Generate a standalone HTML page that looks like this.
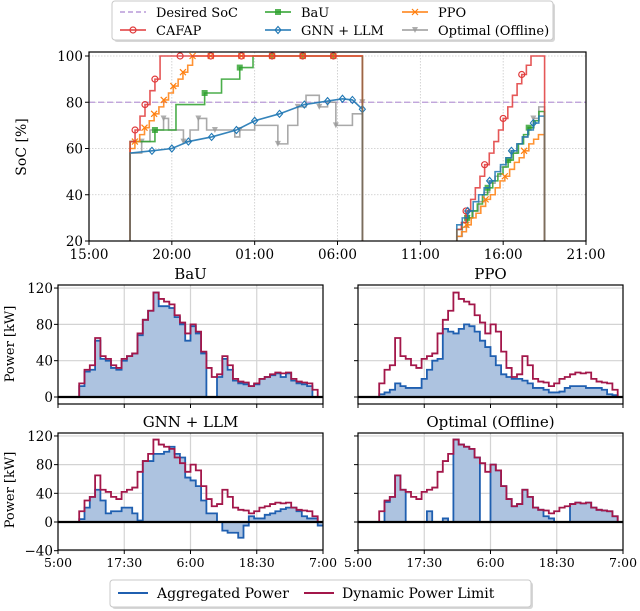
<!DOCTYPE html>
<html><head><meta charset="utf-8">
<style>
body{margin:0;background:#fff;}
svg{display:block;font-family:"DejaVu Serif","Liberation Serif",serif;}
</style></head>
<body>
<svg id="c" width="640" height="611" viewBox="0 0 640 611" xmlns="http://www.w3.org/2000/svg"></svg>
<script>
// ---------- SoC chart data (hours since 15:00) ----------
const cafapT1=[2.48,2.78,3.08,3.38,3.68,3.98,4.29];
const cafapV1=[63,68,74,79,85,90,100];
const ppoT1=[2.48,2.77,3.06,3.35,3.64,3.93,4.22,4.51,4.80,5.09,5.38,5.67,5.96,6.25];
const ppoV1=[60,63,66,69,72,75,78,81,84,87,90,93,96,100];
const bauT1=[2.48,3.98,5.25,6.98,8.0,9.1,9.9];
const bauV1=[63,68,79,84,90,95,100];
const optT1=[2.48,3.18,3.68,4.5,4.8,5.7,6.1,6.6,7.1,7.6,8.8,9.1,10.0,11.4,12.0,12.6,13.1,13.9,14.4,14.9,15.9,16.5];
const optV1=[58,63,68,73,68,63,68,73,68,68,65,68,70,62,70,78,83,78,80,70,75,80];
const gnnT1=[2.48,3.8,5.0,6.0,7.4,8.9,10.0,11.5,13.0,14.4,15.3,15.9,16.5];
const gnnV1=[58,59,60,63,65,68,72,75,79,80.5,81.5,81,77];
const cafapV2=[25,28,33,38,43,48,53,58,63,68,73,78,83,88,92,96,100];
const ppoV2=[22,24,27,30,32,35,38,40,43,46,48,51,54,56,59,62,64,66];
const bauV2=[25,28,30,33,36,40,43,46,49,52,55,58,62,66,69,72,76];
const gnnV2=[27,30,33,37,40,43,46,50,53,56,59,62,65,68,71,74];
const optV2=[22,26,30,33,37,41,45,48,52,55,58,62,65,69,73,78];
const sess1=[2.48,16.5];
const sess2=[22.2,27.5];
const desiredSoC=80;
const socTickLabels=["15:00","20:00","01:00","06:00","11:00","16:00","21:00"];
const socYTicks=[20,40,60,80,100];

// ---------- Power data (hourly, from hour 3 to 49) ----------
const powerStart=3;
const powerLimit=[0,15,30,35,65,45,42,35,32,42,45,48,70,85,95,115,108,105,102,90,82,70,80,72,50,32,22,25,45,35,20,17,16,12,15,20,22,25,27,26,27,20,17,16,15,8,0];
const bauPower=[0,12,28,30,62,42,40,32,30,40,45,48,68,85,95,115,100,100,98,88,80,62,78,70,48,0,0,22,42,30,18,15,14,12,14,20,22,24,26,22,26,18,15,14,12,0,0];
const ppoPower=[0,3,5,8,15,12,10,10,10,20,30,40,42,75,72,70,75,80,78,72,62,55,45,35,25,22,20,20,18,15,10,10,8,5,5,6,10,12,12,12,10,10,10,8,3,2,0];
const gnnPower=[0,4,20,35,45,30,12,15,15,20,20,12,2,85,85,95,95,98,105,95,90,62,58,50,30,12,12,0,-12,-15,-15,-22,-5,8,5,5,10,12,15,18,20,20,15,8,5,5,-5];
const optPower=[0,0,28,35,65,45,0,0,0,0,15,0,0,5,0,115,108,105,102,90,0,0,80,72,50,32,22,25,45,35,20,17,8,5,0,0,0,25,27,26,27,20,17,16,15,8,0];
const powerTickLabels=["5:00","17:30","6:00","18:30","7:00"];
const topYTicks=[0,40,80,120];
const botYTicks=[-40,0,40,80,120];

const NS="http://www.w3.org/2000/svg";
const svg=document.getElementById('c');
function mk(tag,attrs,parent){const e=document.createElementNS(NS,tag);for(const k in attrs)e.setAttribute(k,attrs[k]);(parent||svg).appendChild(e);return e;}
function txt(s,x,y,attrs,parent){const e=mk('text',Object.assign({x:x,y:y},attrs),parent);e.textContent=s;return e;}

// ===== Top SoC chart =====
const sx=t=>89+t*16.567, sy=v=>56+(100-v)*2.3125;
const topG=mk('g',{});


for(let i=0;i<socTickLabels.length;i++){
  const x=sx(i*5);
  if(i>0&&i<6){const g=mk('line',{x1:x,x2:x,y1:52,y2:241,stroke:'#c8c8c8','stroke-width':0.8,'stroke-dasharray':'1.5,1.5'},topG);
  }
  mk('line',{x1:x,x2:x,y1:241,y2:245,stroke:'#000'},topG);
  const l=txt(socTickLabels[i],x,259,{'font-size':13.5,'text-anchor':'middle'},topG);
  
}
socYTicks.forEach(v=>{
  const y=sy(v);
  if(v>20){const g=mk('line',{x1:89,x2:586,y1:y,y2:y,stroke:'#c8c8c8','stroke-width':0.8,'stroke-dasharray':'1.5,1.5'},topG);
  }
  mk('line',{x1:85,x2:89,y1:y,y2:y,stroke:'#000'},topG);
  const l=txt(String(v),83,y+5,{'font-size':13.5,'text-anchor':'end'},topG);
  
});
const yt=txt('SoC [%]',0,0,{'font-size':14,'text-anchor':'middle',transform:'translate(26,147) rotate(-90)'},topG);


const dl=mk('line',{x1:89,x2:586,y1:sy(desiredSoC),y2:sy(desiredSoC),stroke:'#b99ad8','stroke-width':1.3,'stroke-dasharray':'6,3'},topG);


function stepPath(ts,vs,tEnd){
  let d='M'+sx(ts[0])+','+sy(20)+'V'+sy(vs[0]);
  for(let i=1;i<ts.length;i++){d+='H'+sx(ts[i])+'V'+sy(vs[i]);}
  d+='H'+sx(tEnd)+'V'+sy(20);
  return d;
}
function evenT(vs,t0,dt){return vs.map((v,i)=>t0+i*dt);}
function marker(kind,x,y,color,parent){
  let e;
  if(kind==='circle')e=mk('circle',{cx:x,cy:y,r:3,fill:'none',stroke:color,'stroke-width':1.2},parent);
  else if(kind==='square')e=mk('rect',{x:x-3,y:y-3,width:6,height:6,fill:color,opacity:0.8},parent);
  else if(kind==='diamond')e=mk('path',{d:`M${x},${y-3.5}L${x+3},${y}L${x},${y+3.5}L${x-3},${y}Z`,fill:'none',stroke:color,'stroke-width':1.1},parent);
  else if(kind==='tri')e=mk('path',{d:`M${x-3},${y-3}L${x+3},${y-3}L${x},${y+3}Z`,fill:color,opacity:0.8},parent);
  else e=mk('path',{d:`M${x-3},${y-3}L${x+3},${y+3}M${x-3},${y+3}L${x+3},${y-3}`,stroke:color,'stroke-width':1.2},parent);
  return e;
}
const seriesList=[
  {name:'optimal',c:'#9a9a9a',m:'tri',t1:optT1,v1:optV1,v2:optV2,dt2:0.33},
  {name:'bau',c:'#2ca02c',m:'square',t1:bauT1,v1:bauV1,v2:bauV2,dt2:0.31},
  {name:'ppo',c:'#ff7f0e',m:'x',t1:ppoT1,v1:ppoV1,v2:ppoV2,dt2:0.29},
  {name:'cafap',c:'#e0393a',m:'circle',t1:cafapT1,v1:cafapV1,v2:cafapV2,dt2:0.28},
];
seriesList.forEach(s=>{
  const g=mk('g',{},topG);
  
  mk('path',{d:stepPath(s.t1,s.v1,sess1[1]),fill:'none',stroke:s.c,'stroke-width':1.6,opacity:0.85},g);
  const t2=evenT(s.v2,sess2[0],s.dt2);
  mk('path',{d:stepPath(t2,s.v2,sess2[1]),fill:'none',stroke:s.c,'stroke-width':1.6,opacity:0.85},g);
  s.t1.forEach((t,i)=>{if(i%2===1)marker(s.m,sx(t),sy(s.v1[i]),s.c,g);});
  t2.forEach((t,i)=>{if(i%4===2)marker(s.m,sx(t),sy(s.v2[i]),s.c,g);});
  if(s.v1[s.v1.length-1]===100){for(let t=5.5;t<16.5;t+=1.85){if(sx(t)>sx(s.t1[s.t1.length-1])+4)marker(s.m,sx(t),sy(100),s.c,g);}}
});
// GNN line
{
  const g=mk('g',{},topG);
  
  let d='M'+sx(gnnT1[0])+','+sy(20);
  gnnT1.forEach((t,i)=>{d+='L'+sx(t)+','+sy(gnnV1[i]);});
  d+='L'+sx(sess1[1])+','+sy(20);
  mk('path',{d:d,fill:'none',stroke:'#1f77b4','stroke-width':1.6,opacity:0.9},g);
  gnnT1.forEach((t,i)=>{if(i>0)marker('diamond',sx(t),sy(gnnV1[i]),'#1f77b4',g);});
  const t2=evenT(gnnV2,sess2[0],0.33);
  mk('path',{d:stepPath(t2,gnnV2,sess2[1]),fill:'none',stroke:'#1f77b4','stroke-width':1.6,opacity:0.85},g);
  t2.forEach((t,i)=>{if(i%4===2)marker('diamond',sx(t),sy(gnnV2[i]),'#1f77b4',g);});
}
// session edges
const edgeTops=[58,100,25,76];
[sess1[0],sess1[1],sess2[0],sess2[1]].forEach((t,i)=>{
  const l=mk('line',{x1:sx(t),x2:sx(t),y1:sy(20),y2:sy(edgeTops[i]),stroke:'#8c6d4b','stroke-width':1.6,opacity:0.8},topG);
  
});
const fr=mk('rect',{x:89,y:52,width:497,height:189,fill:'none',stroke:'#000','stroke-width':1.2},topG);


// top legend
const lg=mk('g',{});

mk('rect',{x:114,y:3,width:441,height:39,rx:3,fill:'#b0b0b0',opacity:0.5},lg);
mk('rect',{x:112,y:1,width:441,height:39,rx:3,fill:'#fff',stroke:'#c8c8c8'},lg);
const legItems=[
  ['Desired SoC','#b99ad8',120,12,'dash',null],['BaU','#2ca02c',265,12,'line','square'],['PPO','#ff7f0e',402,12,'line','x'],
  ['CAFAP','#e0393a',120,30,'line','circle'],['GNN + LLM','#1f77b4',265,30,'line','diamond'],['Optimal (Offline)','#9a9a9a',402,30,'line','tri']];
legItems.forEach(it=>{
  const g=mk('g',{},lg);
  
  mk('line',{x1:it[2],x2:it[2]+26,y1:it[3],y2:it[3],stroke:it[1],'stroke-width':1.6,'stroke-dasharray':it[4]==='dash'?'5,3':'none'},g);
  if(it[5])marker(it[5],it[2]+13,it[3],it[1],g);
  txt(it[0],it[2]+36,it[3]+5,{'font-size':13},g);
});

// ===== Power panels =====
const panels=[
  {title:'BaU',x0:58,row:0,data:bauPower,left:true},
  {title:'PPO',x0:358,row:0,data:ppoPower,left:false},
  {title:'GNN + LLM',x0:58,row:1,data:gnnPower,left:true},
  {title:'Optimal (Offline)',x0:358,row:1,data:optPower,left:false},
];
const PW=265;
panels.forEach(p=>{
  const g=mk('g',{});
  
  
  const px=t=>p.x0+t*PW/50;
  const py=p.row===0?(v=>397-v*0.908):(v=>522-v*0.717);
  const yTop=p.row===0?285:433, yBot=p.row===0?404:550;
  const ticks=p.row===0?topYTicks:botYTicks;
  for(let i=1;i<4;i++){const x=px(i*12.5);mk('line',{x1:x,x2:x,y1:yTop,y2:yBot,stroke:'#d3d3d3','stroke-width':1.2},g);}
  ticks.forEach(v=>{
    const y=py(v);
    mk('line',{x1:p.x0,x2:p.x0+PW,y1:y,y2:y,stroke:'#d3d3d3','stroke-width':1.2},g);
    mk('line',{x1:p.x0-4,x2:p.x0,y1:y,y2:y,stroke:'#000'},g);
    if(p.left){const l=txt(String(v).replace('-','\u2212'),p.x0-5,y+5,{'font-size':13.5,'text-anchor':'end'},g);
      }
  });
  for(let i=0;i<5;i++){
    const x=px(i*12.5);
    mk('line',{x1:x,x2:x,y1:yBot,y2:yBot+4,stroke:'#000'},g);
    if(p.row===1){const l=txt(powerTickLabels[i],x,yBot+17,{'font-size':12.5,'text-anchor':'middle'},g);
      }
  }
  function sp(arr){
    let d='M'+px(powerStart)+','+py(arr[0]);
    for(let i=1;i<arr.length;i++){d+='H'+px(powerStart+i)+'V'+py(arr[i]);}
    d+='H'+px(powerStart+arr.length);
    return d;
  }
  const dAgg=sp(p.data);
  const area=mk('path',{d:dAgg+'V'+py(0)+'H'+px(powerStart)+'Z',fill:'#adc3e0'},g);
  
  const agg=mk('path',{d:dAgg,fill:'none',stroke:'#1f5fb0','stroke-width':1.8},g);
  
  const lim=mk('path',{d:sp(powerLimit),fill:'none',stroke:'#a3174a','stroke-width':1.8},g);
  
  mk('line',{x1:p.x0,x2:p.x0+PW,y1:py(0),y2:py(0),stroke:'#000','stroke-width':2.2},g);
  mk('rect',{x:p.x0,y:yTop,width:PW,height:yBot-yTop,fill:'none',stroke:'#000','stroke-width':1.2},g);
  const t=txt(p.title,p.x0+PW/2,yTop-6,{'font-size':15,'text-anchor':'middle'},g);
  
  if(p.left){
    const yl=txt('Power [kW]',0,0,{'font-size':13,'text-anchor':'middle',transform:`translate(14,${p.row===0?344:490}) rotate(-90)`},g);
    
  }
});

// bottom legend
const bl=mk('g',{});

mk('rect',{x:112,y:582,width:421,height:27,rx:3,fill:'#b0b0b0',opacity:0.5},bl);
mk('rect',{x:110,y:580,width:421,height:27,rx:3,fill:'#fff',stroke:'#c8c8c8'},bl);
mk('line',{x1:118,x2:148,y1:593,y2:593,stroke:'#1f5fb0','stroke-width':2},bl);
txt('Aggregated Power',157,598,{'font-size':14},bl);
mk('line',{x1:304,x2:334,y1:593,y2:593,stroke:'#a3174a','stroke-width':2},bl);
txt('Dynamic Power Limit',342,598,{'font-size':14},bl);
</script>
</body></html>
